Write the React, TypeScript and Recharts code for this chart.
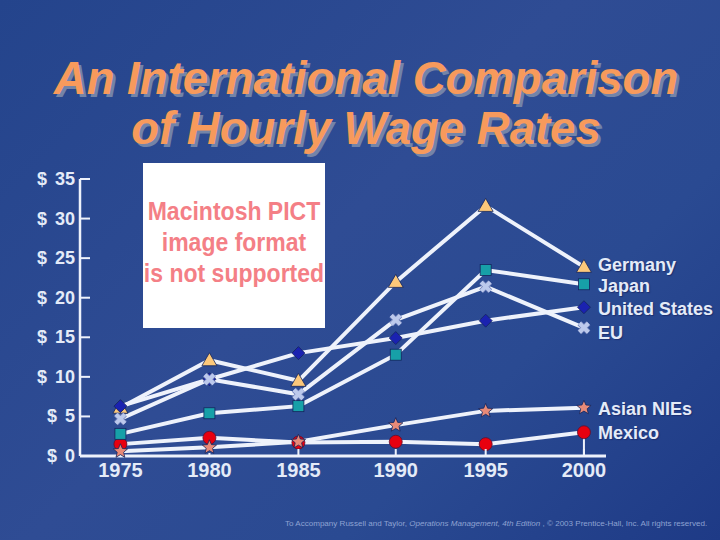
import { LineChart, Line, XAxis, YAxis, ReferenceLine } from "recharts";

const yearLabels = ["1975", "1980", "1985", "1990", "1995", "2000"];
// the ticks on the slide are not evenly spaced, these are the years as read along the axis
const yearPositions = [1975, 1979.8, 1984.6, 1989.85, 1994.7, 2000];
const dollarTicks = [0, 5, 10, 15, 20, 25, 30, 35];

const mexico = [1.5, 2.3, 1.7, 1.8, 1.5, 3.0];
const asianNies = [0.6, 1.1, 1.8, 3.9, 5.7, 6.1];
const germany = [6.1, 12.1, 9.5, 22.0, 31.6, 23.9];
const unitedStates = [6.3, 9.7, 13.0, 14.9, 17.1, 18.8];
const japan = [2.8, 5.4, 6.3, 12.8, 23.5, 21.7];
const eu = [4.7, 9.7, 7.8, 17.2, 21.4, 16.2];

const seriesList = [
  { key: "mexico", values: mexico, marker: "circle" },
  { key: "asianNies", values: asianNies, marker: "star" },
  { key: "germany", values: germany, marker: "triangle" },
  { key: "unitedStates", values: unitedStates, marker: "diamond" },
  { key: "japan", values: japan, marker: "square" },
  { key: "eu", values: eu, marker: "cross" },
];

const chartData = yearPositions.map((x, i) => {
  const row: Record<string, number> = { x };
  for (const s of seriesList) row[s.key] = s.values[i];
  return row;
});

const directLabels = [
  { text: "Germany", top: 265 },
  { text: "Japan", top: 286 },
  { text: "United States", top: 309 },
  { text: "EU", top: 333 },
  { text: "Asian NIEs", top: 409 },
  { text: "Mexico", top: 433 },
];

const placeholderLines = ["Macintosh PICT", "image format", "is not supported"];

const FONT = "'Liberation Sans', Arial, sans-serif";
const TEXT = "#e4ebf8";
const LINE = "#eef2fb";

function starPath(cx: number, cy: number, r: number) {
  let d = "";
  for (let i = 0; i < 10; i++) {
    const rad = i % 2 === 0 ? r : r * 0.45;
    const a = -Math.PI / 2 + (i * Math.PI) / 5;
    d += `${i === 0 ? "M" : "L"}${cx + rad * Math.cos(a)},${cy + rad * Math.sin(a)}`;
  }
  return d + "Z";
}

function Marker({ type, cx, cy }: { type: string; cx: number; cy: number }) {
  const edge = "#14245c";
  if (type === "circle") return <circle cx={cx} cy={cy} r={6.5} fill="#e8000f" stroke="#5a1030" strokeWidth={0.8} />;
  if (type === "star") return <path d={starPath(cx, cy, 7.5)} fill="#e88a78" stroke={edge} strokeWidth={0.8} />;
  if (type === "triangle")
    return <path d={`M${cx},${cy - 7.5}L${cx + 7.5},${cy + 5.5}L${cx - 7.5},${cy + 5.5}Z`} fill="#fcc87a" stroke={edge} strokeWidth={0.8} />;
  if (type === "diamond")
    return <path d={`M${cx},${cy - 6.5}L${cx + 6.5},${cy}L${cx},${cy + 6.5}L${cx - 6.5},${cy}Z`} fill="#1a22b0" stroke={edge} strokeWidth={0.8} />;
  if (type === "square")
    return <rect x={cx - 5.5} y={cy - 5.5} width={11} height={11} fill="#17a0a8" stroke={edge} strokeWidth={0.8} />;
  return (
    <g>
      <path d={`M${cx - 4.5},${cy - 4.5}L${cx + 4.5},${cy + 4.5}M${cx + 4.5},${cy - 4.5}L${cx - 4.5},${cy + 4.5}`} stroke="#6f7fb8" strokeWidth={5.5} />
      <path d={`M${cx - 4.5},${cy - 4.5}L${cx + 4.5},${cy + 4.5}M${cx + 4.5},${cy - 4.5}L${cx - 4.5},${cy + 4.5}`} stroke="#bcc9ec" strokeWidth={4} />
    </g>
  );
}

function DollarTick({ x, y, payload }: any) {
  return (
    <g>
      <line x1={x} x2={x + 10} y1={y} y2={y} stroke={LINE} strokeWidth={2} />
      <text x={x - 5} y={y + 6} textAnchor="end" fontFamily={FONT} fontWeight="bold" fontSize={18} wordSpacing={3} fill={TEXT} stroke="none">
        {`$ ${payload.value}`}
      </text>
    </g>
  );
}

function YearTick({ x, y, index }: any) {
  // markers hide most of the stub at the low end of the axis
  const stub = index === 0 ? 0 : index === 1 ? 3 : 7;
  return (
    <g>
      <line x1={x} x2={x} y1={y} y2={y - stub} stroke={LINE} strokeWidth={2} />
      <text x={x} y={y + 21} textAnchor="middle" fontFamily={FONT} fontWeight="bold" fontSize={20} fill={TEXT} stroke="none">
        {yearLabels[index]}
      </text>
    </g>
  );
}

export default function App() {
  const titleStyle: React.CSSProperties = {
    position: "absolute",
    left: 0,
    width: 732,
    textAlign: "center",
    fontFamily: FONT,
    fontWeight: "bold",
    fontStyle: "italic",
    fontSize: 45.5,
    lineHeight: "50px",
    color: "#f79a5c",
    textShadow: "3px 3px 0 #7384a8",
    whiteSpace: "nowrap",
  };
  return (
    <div
      style={{
        position: "absolute",
        left: 0,
        top: 0,
        width: 720,
        height: 540,
        overflow: "hidden",
        background: "linear-gradient(135deg, #24448c 0%, #2f4c94 45%, #2a4a92 70%, #1e3a86 100%)",
      }}
    >
      <div style={{ ...titleStyle, top: 54 }}>An International Comparison</div>
      <div style={{ ...titleStyle, top: 104 }}>of Hourly Wage Rates</div>

      <div
        style={{
          position: "absolute",
          left: 143,
          top: 163,
          width: 182,
          height: 165,
          background: "#fff",
          color: "#f47f86",
          fontFamily: FONT,
          fontWeight: "bold",
          fontSize: 26,
          lineHeight: "31px",
          textAlign: "center",
          paddingTop: 33,
          boxSizing: "border-box",
          whiteSpace: "nowrap",
        }}
      >
        {placeholderLines.map((t) => (
          <div key={t} style={{ marginLeft: -30, width: 242, transform: "scaleX(0.885)" }}>
            {t}
          </div>
        ))}
      </div>

      <div style={{ position: "absolute", left: 0, top: 0 }}>
        <LineChart width={720} height={540} data={chartData} margin={{ top: 179, right: 114, bottom: 0, left: 0 }}>
          <XAxis
            dataKey="x"
            type="number"
            domain={[1972.82, 2001.19]}
            ticks={yearPositions}
            interval={0}
            height={84}
            stroke={LINE}
            strokeWidth={3}
            tickLine={false}
            tickSize={0}
            tickMargin={0}
            tick={YearTick}
          />
          <YAxis
            type="number"
            domain={[0, 35]}
            ticks={dollarTicks}
            interval={0}
            width={80}
            stroke={LINE}
            strokeWidth={2.5}
            tickLine={false}
            tickSize={0}
            tickMargin={0}
            tick={DollarTick}
          />
          <ReferenceLine
            segment={[
              { x: 2000, y: 0 },
              { x: 2000, y: 3 },
            ]}
            stroke={LINE}
            strokeWidth={2}
          />
          {seriesList.map((s) => (
            <Line
              key={s.key}
              dataKey={s.key}
              type="linear"
              stroke={LINE}
              strokeWidth={4}
              dot={false}
              activeDot={false}
              isAnimationActive={false}
            />
          ))}
          {seriesList.map((s) => (
            <Line
              key={s.key + "-markers"}
              dataKey={s.key}
              type="linear"
              stroke="none"
              activeDot={false}
              isAnimationActive={false}
              dot={(p: any) => <Marker key={p.index} type={s.marker} cx={p.cx} cy={p.cy} />}
            />
          ))}
        </LineChart>
      </div>

      {directLabels.map((l) => (
        <div
          key={l.text}
          style={{
            position: "absolute",
            left: 598,
            top: l.top - 8,
            lineHeight: "16px",
            height: 16,
            fontFamily: FONT,
            fontWeight: "bold",
            fontSize: 18,
            color: TEXT,
            textShadow: "1px 1px 1px #1c2f70",
            whiteSpace: "nowrap",
          }}
        >
          {l.text}
        </div>
      ))}

      <div
        style={{
          position: "absolute",
          left: 285,
          top: 519,
          fontFamily: FONT,
          fontSize: 8.05,
          color: "#8ea2d2",
          whiteSpace: "nowrap",
        }}
      >
        To Accompany Russell and Taylor, <i>Operations Management, 4th Edition</i> , © 2003 Prentice-Hall, Inc. All rights reserved.
      </div>
    </div>
  );
}
